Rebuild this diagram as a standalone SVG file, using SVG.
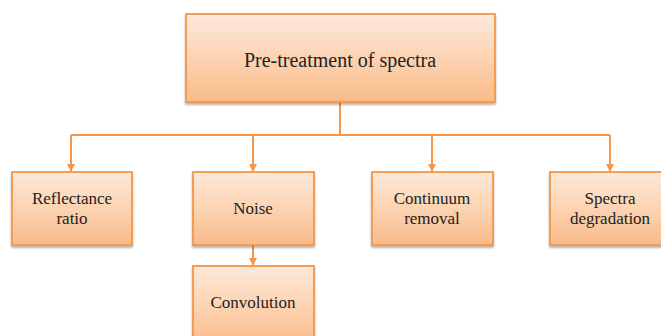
<svg xmlns="http://www.w3.org/2000/svg" width="661" height="336" viewBox="0 0 661 336">
<defs>
<linearGradient id="g" x1="0" y1="0" x2="0" y2="1">
<stop offset="0" stop-color="#fde9da"/>
<stop offset="0.5" stop-color="#fcd3b2"/>
<stop offset="1" stop-color="#f9bb89"/>
</linearGradient>
<filter id="sh" x="-10%" y="-10%" width="120%" height="130%">
<feDropShadow dx="0" dy="2" stdDeviation="1.2" flood-color="#000" flood-opacity="0.3"/>
</filter>
<marker id="ah" markerWidth="8" markerHeight="8" refX="7" refY="4" orient="auto" markerUnits="userSpaceOnUse">
<path d="M0,0 L8,4 L0,8 z" fill="#f79646"/>
</marker>
<style>
.box{fill:url(#g);stroke:#f79646;stroke-width:1.8;filter:url(#sh)}
.t{font-family:"Liberation Serif","Times New Roman",serif;font-size:17px;fill:#222;text-anchor:middle}
.tt{font-size:20px}
.c{fill:none;stroke:#f79646;stroke-width:2}
</style>
</defs>
<g id="connectors">
<path class="c" d="M340,102 V135 M71,135 H610"/>
<path class="c" d="M71,135 V171" marker-end="url(#ah)"/>
<path class="c" d="M253,135 V171" marker-end="url(#ah)"/>
<path class="c" d="M432,135 V171" marker-end="url(#ah)"/>
<path class="c" d="M610,135 V171" marker-end="url(#ah)"/>
<path class="c" d="M253,245 V265" marker-end="url(#ah)"/>
</g>
<g id="pretreatment">
<rect class="box" x="186" y="14" width="309" height="88"/>
<text class="t tt" x="340" y="67">Pre-treatment of spectra</text>
</g>
<g id="reflectance">
<rect class="box" x="12" y="172" width="120" height="73"/>
<text class="t" x="72" y="204">Reflectance</text>
<text class="t" x="72" y="224">ratio</text>
</g>
<g id="noise">
<rect class="box" x="193" y="172" width="121" height="73"/>
<text class="t" x="253" y="214">Noise</text>
</g>
<g id="convolution">
<rect class="box" x="193" y="266" width="121" height="80"/>
<text class="t" x="253" y="308">Convolution</text>
</g>
<g id="continuum">
<rect class="box" x="372" y="172" width="121" height="73"/>
<text class="t" x="432" y="204">Continuum</text>
<text class="t" x="432" y="224">removal</text>
</g>
<g id="spectra">
<rect class="box" x="550" y="172" width="121" height="73"/>
<text class="t" x="610" y="204">Spectra</text>
<text class="t" x="610" y="224">degradation</text>
</g>
</svg>
